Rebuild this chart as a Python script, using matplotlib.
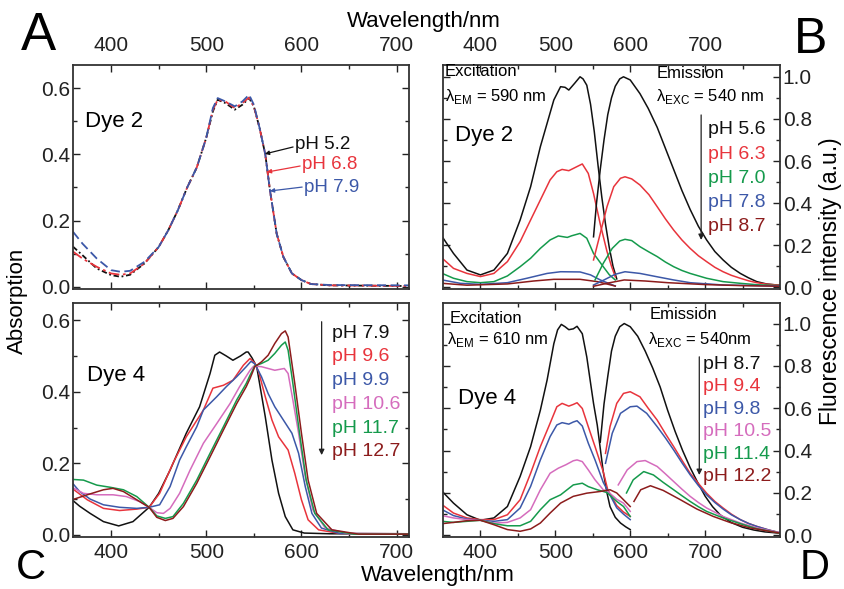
import matplotlib
matplotlib.use("Agg")
import matplotlib.pyplot as plt
from matplotlib.ticker import FixedLocator, FormatStrFormatter

plt.rcParams['font.family'] = ['Liberation Sans', 'DejaVu Sans']
plt.rcParams['mathtext.fontset'] = 'custom'
plt.rcParams['mathtext.rm'] = 'Liberation Sans'

# ---------------- Panel A: Dye 2 absorption ----------------
a_wl = [360, 370, 385, 400, 410, 420, 435, 450, 460, 470, 480, 490, 500, 507, 512, 520,
        530, 538, 545, 550, 556, 562, 567, 574, 581, 590, 600, 610, 630, 713]
a_ph52 = [0.121, 0.095, 0.055, 0.035, 0.030, 0.036, 0.07, 0.12, 0.17, 0.23, 0.30, 0.36, 0.45, 0.53, 0.565, 0.555,
          0.535, 0.55, 0.57, 0.545, 0.48, 0.40, 0.29, 0.16, 0.09, 0.04, 0.02, 0.008, 0.004, 0.002]
a_ph68 = [0.106, 0.085, 0.06, 0.04, 0.036, 0.04, 0.07, 0.12, 0.17, 0.23, 0.30, 0.36, 0.45, 0.535, 0.565, 0.56,
          0.54, 0.555, 0.572, 0.545, 0.48, 0.40, 0.29, 0.16, 0.09, 0.04, 0.02, 0.008, 0.004, 0.002]
a_ph79 = [0.166, 0.13, 0.085, 0.05, 0.045, 0.048, 0.075, 0.12, 0.17, 0.23, 0.30, 0.36, 0.45, 0.54, 0.57, 0.56,
          0.545, 0.56, 0.58, 0.55, 0.48, 0.40, 0.29, 0.16, 0.09, 0.04, 0.02, 0.008, 0.005, 0.004]
a_labels = ['pH 5.2', 'pH 6.8', 'pH 7.9']

# ---------------- Panel C: Dye 4 absorption ----------------
c_wl_79 = [359, 367, 378, 392, 408, 423, 440, 450, 462, 479, 493, 504, 509, 514, 521, 528, 536, 542, 544,
           548, 553, 562, 569, 576, 583, 591, 603, 630, 713]
c_ph79 = [0.098, 0.08, 0.06, 0.037, 0.025, 0.037, 0.077, 0.116, 0.181, 0.284, 0.358, 0.451, 0.502, 0.511, 0.50,
          0.488, 0.50, 0.511, 0.511, 0.495, 0.47, 0.33, 0.209, 0.116, 0.051, 0.014, 0.005, 0.003, 0.003]
c_wl_96 = [359, 375, 392, 409, 427, 440, 451, 465, 479, 497, 507, 518, 528, 539, 546, 551, 555, 562, 569,
           576, 586, 593, 600, 607, 618, 640, 713]
c_ph96 = [0.13, 0.098, 0.074, 0.068, 0.072, 0.077, 0.116, 0.2, 0.274, 0.349, 0.41, 0.418, 0.432, 0.474, 0.493,
          0.48, 0.456, 0.386, 0.321, 0.274, 0.237, 0.172, 0.098, 0.042, 0.014, 0.004, 0.003]
c_wl_99 = [359, 367, 378, 392, 409, 427, 440, 451, 462, 472, 479, 490, 497, 511, 521, 532, 542, 547, 551,
           558, 565, 572, 581, 590, 597, 604, 611, 621, 640, 713]
c_ph99 = [0.146, 0.121, 0.1, 0.084, 0.077, 0.074, 0.077, 0.084, 0.135, 0.209, 0.246, 0.302, 0.349, 0.386, 0.414,
          0.442, 0.47, 0.485, 0.478, 0.442, 0.395, 0.358, 0.321, 0.284, 0.228, 0.135, 0.06, 0.019, 0.004, 0.003]
c_wl_106 = [359, 371, 385, 402, 416, 430, 440, 448, 455, 462, 472, 483, 497, 511, 525, 535, 546, 550, 558,
            565, 572, 582, 586, 591, 597, 604, 612, 625, 650, 713]
c_ph106 = [0.133, 0.116, 0.112, 0.112, 0.107, 0.093, 0.077, 0.062, 0.06, 0.074, 0.116, 0.181, 0.256, 0.311,
           0.367, 0.414, 0.46, 0.472, 0.47, 0.465, 0.46, 0.465, 0.451, 0.377, 0.284, 0.163, 0.07, 0.019, 0.003, 0.003]
c_wl_117 = [359, 371, 385, 399, 413, 427, 440, 448, 457, 465, 476, 490, 504, 518, 532, 542, 546, 551, 558,
            565, 572, 579, 583, 586, 591, 598, 605, 614, 628, 655, 713]
c_ph117 = [0.155, 0.153, 0.139, 0.133, 0.126, 0.107, 0.077, 0.053, 0.046, 0.051, 0.088, 0.153, 0.228, 0.302,
           0.377, 0.423, 0.446, 0.472, 0.479, 0.488, 0.507, 0.53, 0.539, 0.516, 0.423, 0.284, 0.153, 0.06, 0.014,
           0.002, 0.002]
c_wl_127 = [359, 375, 392, 402, 413, 427, 440, 448, 457, 465, 476, 490, 504, 518, 532, 542, 546, 551, 558,
            565, 572, 579, 583, 586, 593, 600, 607, 616, 632, 660, 713]
c_ph127 = [0.098, 0.112, 0.126, 0.13, 0.121, 0.098, 0.077, 0.049, 0.04, 0.046, 0.079, 0.144, 0.218, 0.293,
           0.367, 0.414, 0.437, 0.47, 0.4835, 0.502, 0.535, 0.5625, 0.57, 0.553, 0.423, 0.284, 0.153, 0.06, 0.014,
           0.002, 0.002]
c_labels = ['pH 7.9', 'pH 9.6', 'pH 9.9', 'pH 10.6', 'pH 11.7', 'pH 12.7']

# ---------------- Panel B: Dye 2 fluorescence ----------------
b_ex_wl_56 = [349, 364, 382, 400, 418, 436, 453, 467, 480, 489, 498, 507, 513, 518, 526, 533, 537, 542, 547,
              552, 557, 562, 567, 572, 577, 582]
b_ex_56 = [0.24, 0.161, 0.082, 0.059, 0.082, 0.161, 0.32, 0.478, 0.668, 0.779, 0.89, 0.953, 0.95, 0.937, 0.97,
           1.0, 0.99, 0.96, 0.87, 0.74, 0.58, 0.43, 0.30, 0.19, 0.10, 0.04]
b_em_wl_56 = [551, 555, 560, 565, 570, 575, 580, 586, 591, 600, 613, 624, 636, 647, 658, 669, 680, 691, 702,
              713, 724, 735, 747, 758, 769, 782, 796, 800]
b_em_56 = [0.24, 0.40, 0.56, 0.70, 0.82, 0.90, 0.955, 0.99, 1.0, 0.985, 0.92, 0.85, 0.76, 0.66, 0.56, 0.46,
           0.37, 0.29, 0.225, 0.17, 0.13, 0.095, 0.066, 0.045, 0.027, 0.016, 0.011, 0.01]
b_ex_wl_63 = [349, 364, 382, 400, 418, 436, 453, 467, 480, 493, 502, 509, 518, 527, 536, 544, 551, 560, 569,
              575, 580]
b_ex_63 = [0.138, 0.09, 0.066, 0.051, 0.066, 0.122, 0.217, 0.32, 0.415, 0.51, 0.549, 0.56, 0.554, 0.57, 0.586,
           0.541, 0.446, 0.30, 0.17, 0.10, 0.05]
b_em_wl_63 = [551, 560, 569, 578, 587, 593, 602, 613, 625, 636, 647, 658, 669, 680, 691, 702, 713, 724, 735,
              747, 758, 769, 782, 796, 800]
b_em_63 = [0.13, 0.256, 0.383, 0.478, 0.518, 0.525, 0.515, 0.486, 0.44, 0.383, 0.325, 0.272, 0.225, 0.185,
           0.15, 0.122, 0.095, 0.074, 0.057, 0.043, 0.031, 0.022, 0.015, 0.011, 0.01]
b_ex_wl_70 = [349, 364, 382, 400, 418, 436, 453, 467, 480, 493, 504, 516, 522, 533, 542, 551, 564, 572, 580]
b_ex_70 = [0.066, 0.043, 0.027, 0.022, 0.027, 0.054, 0.098, 0.138, 0.185, 0.225, 0.244, 0.237, 0.245, 0.256,
           0.233, 0.161, 0.098, 0.06, 0.035]
b_em_wl_70 = [553, 564, 576, 586, 593, 602, 613, 625, 636, 647, 658, 669, 680, 702, 724, 747, 770, 800]
b_em_70 = [0.035, 0.114, 0.185, 0.22, 0.228, 0.222, 0.193, 0.168, 0.146, 0.12, 0.098, 0.08, 0.066, 0.043,
           0.027, 0.019, 0.012, 0.008]
b_ex_wl_78 = [349, 373, 400, 436, 462, 489, 507, 533, 547, 560, 580]
b_ex_78 = [0.035, 0.019, 0.014, 0.022, 0.043, 0.066, 0.074, 0.073, 0.059, 0.035, 0.006]
b_em_wl_78 = [551, 565, 580, 593, 613, 636, 658, 680, 724, 800]
b_em_78 = [0.011, 0.035, 0.062, 0.074, 0.066, 0.05, 0.035, 0.022, 0.011, 0.006]
b_ex_wl_87 = [349, 382, 436, 471, 498, 533, 556, 580]
b_ex_87 = [0.019, 0.01, 0.016, 0.03, 0.038, 0.038, 0.027, 0.006]
b_em_wl_87 = [551, 570, 592, 620, 650, 700, 750, 800]
b_em_87 = [0.005, 0.02, 0.035, 0.03, 0.022, 0.013, 0.008, 0.005]
b_labels = ['pH 5.6', 'pH 6.3', 'pH 7.0', 'pH 7.8', 'pH 8.7']

# ---------------- Panel D: Dye 4 fluorescence ----------------
d_ex_wl_87 = [349, 364, 382, 400, 418, 436, 453, 467, 480, 489, 498, 503, 508, 513, 518, 524, 529, 536, 542,
              547, 551, 556, 560, 564, 569, 573, 580, 587, 594, 600]
d_ex_87 = [0.207, 0.152, 0.097, 0.071, 0.082, 0.136, 0.278, 0.419, 0.591, 0.733, 0.905, 0.97, 0.996, 0.985,
           0.971, 0.975, 0.987, 0.952, 0.842, 0.72, 0.623, 0.52, 0.41, 0.30, 0.2, 0.136, 0.085, 0.058, 0.04, 0.027]
d_em_wl_87 = [560, 565, 570, 575, 580, 586, 592, 600, 610, 620, 630, 640, 650, 660, 670, 680, 690, 700, 710,
              720, 735, 750, 765, 780, 800]
d_em_87 = [0.44, 0.62, 0.75, 0.87, 0.94, 0.985, 1.0, 0.985, 0.94, 0.87, 0.79, 0.70, 0.59, 0.49, 0.40, 0.32,
           0.25, 0.185, 0.135, 0.097, 0.06, 0.038, 0.025, 0.016, 0.01]
d_ex_wl_94 = [349, 364, 382, 400, 418, 436, 453, 467, 480, 493, 502, 509, 518, 524, 529, 536, 544, 553, 564,
              570, 582, 591, 600]
d_ex_94 = [0.144, 0.105, 0.082, 0.074, 0.074, 0.097, 0.168, 0.293, 0.419, 0.529, 0.607, 0.623, 0.61, 0.618,
           0.626, 0.599, 0.513, 0.419, 0.3, 0.215, 0.14, 0.11, 0.089]
d_em_wl_94 = [567, 573, 582, 591, 600, 613, 624, 636, 647, 658, 669, 680, 691, 702, 713, 724, 735, 747, 758,
              769, 785, 800]
d_em_94 = [0.387, 0.513, 0.623, 0.67, 0.678, 0.654, 0.6, 0.544, 0.48, 0.419, 0.355, 0.293, 0.245, 0.199, 0.16,
           0.129, 0.1, 0.074, 0.056, 0.042, 0.025, 0.012]
d_ex_wl_98 = [349, 364, 382, 400, 418, 436, 453, 467, 480, 493, 502, 509, 518, 524, 529, 536, 544, 553, 564,
              570, 582, 591, 600]
d_ex_98 = [0.121, 0.093, 0.077, 0.071, 0.066, 0.074, 0.129, 0.231, 0.356, 0.466, 0.521, 0.532, 0.525, 0.535,
           0.541, 0.516, 0.435, 0.356, 0.25, 0.21, 0.13, 0.1, 0.074]
d_em_wl_98 = [567, 576, 587, 600, 609, 622, 636, 647, 658, 669, 680, 691, 702, 713, 724, 735, 747, 758, 769,
              785, 800]
d_em_98 = [0.34, 0.482, 0.576, 0.607, 0.61, 0.576, 0.513, 0.46, 0.403, 0.343, 0.286, 0.235, 0.191, 0.155,
           0.124, 0.097, 0.074, 0.056, 0.042, 0.025, 0.012]
d_ex_wl_105 = [349, 364, 382, 400, 418, 436, 453, 467, 480, 493, 504, 514, 524, 529, 536, 544, 553, 564, 570,
               582, 591, 600]
d_ex_105 = [0.093, 0.082, 0.074, 0.071, 0.058, 0.061, 0.082, 0.121, 0.215, 0.293, 0.317, 0.333, 0.352, 0.356,
            0.348, 0.309, 0.262, 0.215, 0.207, 0.17, 0.152, 0.113]
d_em_wl_105 = [584, 596, 609, 620, 636, 647, 658, 669, 680, 691, 702, 724, 747, 769, 800]
d_em_105 = [0.238, 0.309, 0.348, 0.353, 0.325, 0.29, 0.254, 0.218, 0.184, 0.155, 0.129, 0.089, 0.058, 0.035,
            0.012]
d_ex_wl_114 = [349, 364, 382, 400, 418, 436, 453, 467, 480, 493, 507, 524, 536, 544, 556, 569, 582, 591, 600]
d_ex_114 = [0.066, 0.061, 0.066, 0.071, 0.055, 0.045, 0.045, 0.066, 0.121, 0.168, 0.191, 0.238, 0.246, 0.23,
            0.215, 0.202, 0.16, 0.136, 0.089]
d_em_wl_114 = [595, 604, 618, 631, 644, 658, 669, 680, 691, 702, 724, 747, 769, 800]
d_em_114 = [0.2, 0.262, 0.301, 0.285, 0.25, 0.215, 0.187, 0.16, 0.135, 0.113, 0.082, 0.055, 0.031, 0.01]
d_ex_wl_122 = [349, 364, 382, 400, 418, 436, 453, 467, 480, 493, 507, 524, 542, 560, 573, 582, 591, 600]
d_ex_122 = [0.055, 0.061, 0.069, 0.071, 0.05, 0.027, 0.019, 0.03, 0.058, 0.105, 0.152, 0.184, 0.199, 0.207,
            0.215, 0.2, 0.168, 0.136]
d_em_wl_122 = [605, 614, 627, 644, 667, 689, 711, 733, 760, 800]
d_em_122 = [0.16, 0.215, 0.234, 0.212, 0.168, 0.124, 0.089, 0.061, 0.035, 0.01]
d_labels = ['pH 8.7', 'pH 9.4', 'pH 9.8', 'pH 10.5', 'pH 11.4', 'pH 12.2']

BLACK = '#111111'
RED = '#e8343c'
GREEN = '#159a4c'
BLUE = '#3c58a8'
PINK = '#d56cbd'
DRED = '#8c1c1c'
LW = 1.1

W, H = 844, 589
fig = plt.figure(figsize=(W / 100, H / 100), dpi=100)


def box(x0, y0, x1, y1):
    return [x0 / W, 1 - y1 / H, (x1 - x0) / W, (y1 - y0) / H]


def setup(ax, xlim, ylim, xticks, right=False, top=False):
    ax.set_xlim(*xlim)
    ax.set_ylim(*ylim)
    ax.xaxis.set_major_locator(FixedLocator(xticks))
    ax.xaxis.set_minor_locator(FixedLocator([450, 550, 650, 750]))
    yt = [0, 0.2, 0.4, 0.6, 0.8, 1.0]
    ax.yaxis.set_major_locator(FixedLocator([v for v in yt if v <= ylim[1]]))
    ax.yaxis.set_minor_locator(FixedLocator([v for v in [0.1, 0.3, 0.5, 0.7, 0.9] if v <= ylim[1]]))
    ax.yaxis.set_major_formatter(FormatStrFormatter('%.1f'))
    ax.tick_params(which='both', direction='in', top=True, bottom=True, left=True, right=True,
                   labelsize=15, colors='#222222', width=1)
    ax.tick_params(which='major', length=5)
    ax.tick_params(which='minor', length=3)
    ax.tick_params(axis='x', labeltop=top, labelbottom=not top, pad=7 if top else 4)
    ax.tick_params(axis='y', labelleft=not right, labelright=right, pad=2)
    for s in ax.spines.values():
        s.set_linewidth(1.3)
        s.set_color('#333333')


def legend(ax, labels, colors, x, y0, dy, arrow_x, arrow_top, arrow_bot, fs=14):
    ax.annotate('', xy=(arrow_x, arrow_bot), xytext=(arrow_x, arrow_top), xycoords='axes fraction',
                textcoords='axes fraction',
                arrowprops=dict(arrowstyle='-|>', lw=0.9, color='#222222', mutation_scale=8,
                                shrinkA=0, shrinkB=0))
    for i, (lab, col) in enumerate(zip(labels, colors)):
        ax.text(x, y0 - i * dy, lab, color=col, fontsize=fs, ha='left', va='center', transform=ax.transAxes)


# ---- A ----
axA = fig.add_axes(box(73, 65, 409, 289))
setup(axA, (360, 713), (-0.007, 0.67), [400, 500, 600, 700], top=True)
axA.plot(a_wl, a_ph52, color=BLACK, lw=1.3, ls=(0, (3, 1.5, 1, 1.5)))
axA.plot(a_wl, a_ph68, color=RED, lw=1.3, ls=(0, (6, 2, 1.5, 2)))
axA.plot(a_wl, a_ph79, color=BLUE, lw=1.3, ls=(0, (5, 2.5)))
axA.text(0.036, 0.75, 'Dye 2', fontsize=16, ha='left', va='center', transform=axA.transAxes)
for lab, col, txy, tip, tail in zip(a_labels, [BLACK, RED, BLUE],
                                    [(0.661, 0.647), (0.682, 0.554), (0.6875, 0.451)],
                                    [(0.571, 0.603), (0.577, 0.522), (0.586, 0.4375)],
                                    [(0.655, 0.634), (0.676, 0.549), (0.682, 0.455)]):
    axA.text(txy[0], txy[1], lab, color=col, fontsize=13.5, ha='left', va='center', transform=axA.transAxes)
    axA.annotate('', xy=tip, xytext=tail, xycoords='axes fraction', textcoords='axes fraction',
                 arrowprops=dict(arrowstyle='-|>', lw=0.9, color=col, mutation_scale=6, shrinkA=0, shrinkB=0))

# ---- B ----
axB = fig.add_axes(box(443, 65, 780, 289))
setup(axB, (350, 800), (-0.008, 1.056), [400, 500, 600, 700], right=True, top=True)
for wl, v, c in [(b_ex_wl_56, b_ex_56, BLACK), (b_ex_wl_63, b_ex_63, RED), (b_ex_wl_70, b_ex_70, GREEN),
                 (b_ex_wl_78, b_ex_78, BLUE), (b_ex_wl_87, b_ex_87, DRED),
                 (b_em_wl_56, b_em_56, BLACK), (b_em_wl_63, b_em_63, RED), (b_em_wl_70, b_em_70, GREEN),
                 (b_em_wl_78, b_em_78, BLUE), (b_em_wl_87, b_em_87, DRED)]:
    axB.plot(wl, v, color=c, lw=LW)
axB.text(0.006, 0.970, 'Excitation', fontsize=12, ha='left', va='center', transform=axB.transAxes)
axB.text(0.006, 0.858, 'λ$_{\\mathrm{EM}}$ = 590 nm', fontsize=12, ha='left', va='center', transform=axB.transAxes)
axB.text(0.036, 0.6875, 'Dye 2', fontsize=16, ha='left', va='center', transform=axB.transAxes)
axB.text(0.634, 0.963, 'Emission', fontsize=12, ha='left', va='center', transform=axB.transAxes)
axB.text(0.632, 0.858, 'λ$_{\\mathrm{EXC}}$ = 540 nm', fontsize=12, ha='left', va='center', transform=axB.transAxes)
legend(axB, b_labels, [BLACK, RED, GREEN, BLUE, DRED], 0.787, 0.71, 0.108, 0.766, 0.777, 0.219)

# ---- C ----
axC = fig.add_axes(box(73, 303, 409, 537))
setup(axC, (360, 713), (-0.006, 0.648), [400, 500, 600, 700])
for wl, v, c in [(c_wl_79, c_ph79, BLACK), (c_wl_96, c_ph96, RED), (c_wl_99, c_ph99, BLUE),
                 (c_wl_106, c_ph106, PINK), (c_wl_117, c_ph117, GREEN), (c_wl_127, c_ph127, DRED)]:
    axC.plot(wl, v, color=c, lw=LW)
axC.text(0.041, 0.692, 'Dye 4', fontsize=16, ha='left', va='center', transform=axC.transAxes)
legend(axC, c_labels, [BLACK, RED, BLUE, PINK, GREEN, DRED], 0.77, 0.8705, 0.1012, 0.740, 0.92, 0.35)

# ---- D ----
axD = fig.add_axes(box(443, 303, 780, 537))
setup(axD, (350, 800), (-0.008, 1.097), [400, 500, 600, 700], right=True)
for wl, v, c in [(d_ex_wl_87, d_ex_87, BLACK), (d_ex_wl_94, d_ex_94, RED), (d_ex_wl_98, d_ex_98, BLUE),
                 (d_ex_wl_105, d_ex_105, PINK), (d_ex_wl_114, d_ex_114, GREEN), (d_ex_wl_122, d_ex_122, DRED),
                 (d_em_wl_87, d_em_87, BLACK), (d_em_wl_94, d_em_94, RED), (d_em_wl_98, d_em_98, BLUE),
                 (d_em_wl_105, d_em_105, PINK), (d_em_wl_114, d_em_114, GREEN), (d_em_wl_122, d_em_122, DRED)]:
    axD.plot(wl, v, color=c, lw=LW)
axD.text(0.021, 0.935, 'Excitation', fontsize=12, ha='left', va='center', transform=axD.transAxes)
axD.text(0.011, 0.842, 'λ$_{\\mathrm{EM}}$ = 610 nm', fontsize=12, ha='left', va='center', transform=axD.transAxes)
axD.text(0.0445, 0.593, 'Dye 4', fontsize=16, ha='left', va='center', transform=axD.transAxes)
axD.text(0.612, 0.949, 'Emission', fontsize=12, ha='left', va='center', transform=axD.transAxes)
axD.text(0.609, 0.842, 'λ$_{\\mathrm{EXC}}$ = 540nm', fontsize=12, ha='left', va='center', transform=axD.transAxes)
legend(axD, d_labels, [BLACK, RED, BLUE, PINK, GREEN, DRED], 0.772, 0.739, 0.0962, 0.7605, 0.77, 0.265)

# ---- figure labels ----
def ftext(x, y, s, **kw):
    fig.text(x / W, 1 - y / H, s, **kw)


ftext(424, 22, 'Wavelength/nm', fontsize=16, ha='center', va='center')
ftext(438, 575, 'Wavelength/nm', fontsize=16, ha='center', va='center')
ftext(17, 301, 'Absorption', fontsize=16, ha='center', va='center', rotation=90)
ftext(830, 281, 'Fluorescence intensity (a.u.)', fontsize=16.5, ha='center', va='center', rotation=90)
ftext(38, 36, 'A', fontsize=38, ha='center', va='center')
ftext(811, 40, 'B', fontsize=36, ha='center', va='center')
ftext(31, 579, 'C', fontsize=30, ha='center', va='baseline')
ftext(815, 579, 'D', fontsize=30, ha='center', va='baseline')

fig.savefig('out.png', dpi=100)
